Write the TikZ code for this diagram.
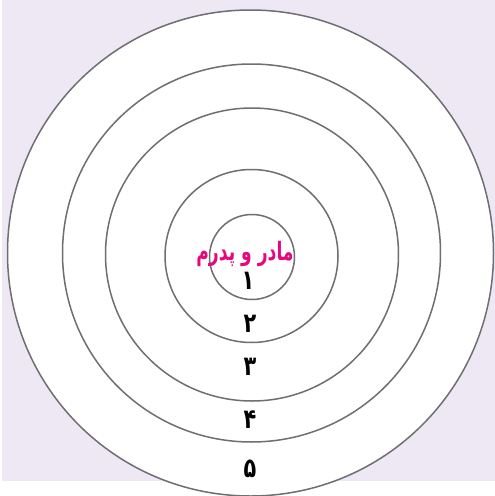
\documentclass[tikz,border=0pt]{standalone}
\usepackage{fontspec}
\TeXXeTstate=1
\newfontfamily\arabicfont[Script=Arabic]{DejaVu Sans}
\definecolor{bglav}{HTML}{EDE8F3}
\definecolor{ringgray}{HTML}{6E6E73}
\definecolor{pinktext}{HTML}{E6077F}
\tikzset{
  ring/.style={draw=ringgray, line width=1.5pt, fill=white, circle, inner sep=0pt},
  digit/.style={font=\arabicfont\bfseries\fontsize{26}{26}\selectfont, text=black, inner sep=0pt},
  title/.style={font=\arabicfont\bfseries\fontsize{22}{22}\selectfont, text=pinktext, inner sep=0pt}
}
\begin{document}
\begin{tikzpicture}[x=1pt,y=-1pt]
\useasboundingbox (0,0) rectangle (495,496);
\fill[white] (0,0) rectangle (495,496);
\fill[bglav] (2,0) rectangle (495,481);
\node[ring, minimum size=486pt] (c5) at (250.5,253) {};
\node[ring, minimum size=378pt] (c4) at (251.5,253) {};
\node[ring, minimum size=293pt] (c3) at (252,254.5) {};
\node[ring, minimum size=173pt] (c2) at (251.5,256) {};
\node[ring, minimum size=85pt] (c1) at (252,257) {};
\node[title] (t) at (245,254) {\scalebox{0.78}[1.15]{\beginR مادر و پدرم\endR}};
\node[digit] (d1) at (248,281) {\scalebox{0.8}[1.05]{\beginR ۱\endR}};
\node[digit] (d2) at (250,324) {\scalebox{0.8}[1.05]{\beginR ۲\endR}};
\node[digit] (d3) at (250,367) {\scalebox{0.8}[1.05]{\beginR ۳\endR}};
\node[digit] (d4) at (250,420) {\scalebox{0.8}[1.05]{\beginR ۴\endR}};
\node[digit] (d5) at (250,469) {\scalebox{0.8}[1.05]{\beginR ۵\endR}};
\end{tikzpicture}
\end{document}
